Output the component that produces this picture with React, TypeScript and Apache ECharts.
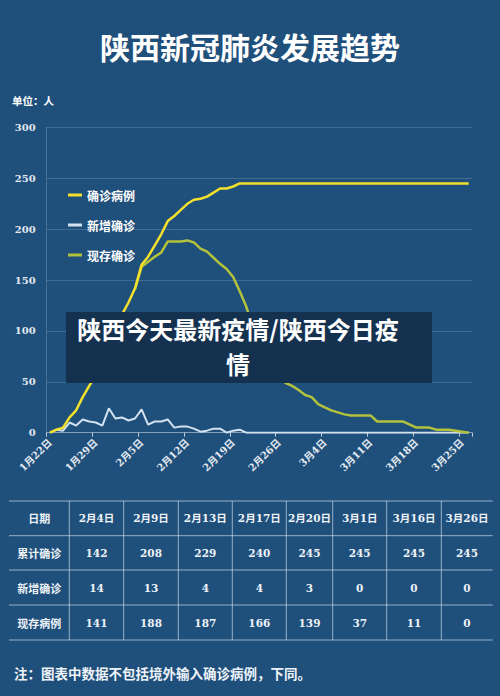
import React, { useEffect, useRef } from "react";
import * as echarts from "echarts";

const categories = [
  "1月22日","1月23日","1月24日","1月25日","1月26日","1月27日","1月28日","1月29日","1月30日","1月31日",
  "2月1日","2月2日","2月3日","2月4日","2月5日","2月6日","2月7日","2月8日","2月9日","2月10日",
  "2月11日","2月12日","2月13日","2月14日","2月15日","2月16日","2月17日","2月18日","2月19日","2月20日",
  "2月21日","2月22日","2月23日","2月24日","2月25日","2月26日","2月27日","2月28日","2月29日",
  "3月1日","3月2日","3月3日","3月4日","3月5日","3月6日","3月7日","3月8日","3月9日","3月10日",
  "3月11日","3月12日","3月13日","3月14日","3月15日","3月16日","3月17日","3月18日","3月19日","3月20日",
  "3月21日","3月22日","3月23日","3月24日","3月25日","3月26日",
];

const cumulative = [
  0, 3, 5, 15, 22, 35, 46, 56, 63, 87,
  101, 116, 128, 142, 165, 173, 184, 195, 208, 213,
  219, 225, 229, 230, 232, 236, 240, 240, 242, 245,
  245, 245, 245, 245, 245, 245, 245, 245, 245,
  245, 245, 245, 245, 245, 245, 245, 245, 245, 245,
  245, 245, 245, 245, 245, 245, 245, 245, 245, 245,
  245, 245, 245, 245, 245, 245,
];

const dailyNew = [
  0, 3, 2, 10, 7, 13, 11, 10, 7, 24,
  14, 15, 12, 14, 23, 8, 11, 11, 13, 5,
  6, 6, 4, 1, 2, 4, 4, 0, 2, 3,
  0, 0, 0, 0, 0, 0, 0, 0, 0,
  0, 0, 0, 0, 0, 0, 0, 0, 0, 0,
  0, 0, 0, 0, 0, 0, 0, 0, 0, 0,
  0, 0, 0, 0, 0, 0,
];

const existing = [
  null, null, null, null, null, null, null, null, null, null,
  null, null, null, 141, 163, 168, 173, 177, 188, 188,
  188, 189, 187, 181, 178, 172, 166, 161, 153, 139,
  124, 104, 87, 75, 63, 55, 49, 46, 42,
  37, 35, 28, 25, 22, 20, 18, 17, 17, 17,
  17, 11, 11, 11, 11, 11, 8, 5, 5, 5,
  3, 3, 3, 2, 1, 0,
];

const seriesNames = ["确诊病例", "新增确诊", "现存确诊"];

const tableDates = ["2月4日", "2月9日", "2月13日", "2月17日", "2月20日", "3月1日", "3月16日", "3月26日"];
const tableCumulative = [142, 208, 229, 240, 245, 245, 245, 245];
const tableNew = [14, 13, 4, 4, 3, 0, 0, 0];
const tableExisting = [141, 188, 187, 166, 139, 37, 11, 0];
const tableRowNames = ["日期", "累计确诊", "新增确诊", "现存病例"];

const titleText = "陕西新冠肺炎发展趋势";
const unitText = "单位：人";
const overlayLines = ["陕西今天最新疫情/陕西今日疫", "情"];
const noteText = "注：图表中数据不包括境外输入确诊病例，下同。";

const BG = "#1f4f7b";
const CJK = '"Noto Sans CJK SC", sans-serif';
const SERIF = '"DejaVu Serif", "Noto Sans CJK SC", serif';

function buildTable(): any[] {
  const colX = [9, 69.3, 123.7, 178.3, 232.3, 286.3, 332.7, 386.7, 441.3, 492.7];
  const rowY = [501, 535.7, 570, 605, 640];
  const lineColor = "rgba(215,228,240,0.65)";
  const els: any[] = [];
  rowY.forEach((y) => {
    els.push({
      type: "line",
      shape: { x1: colX[0], y1: y, x2: colX[colX.length - 1], y2: y },
      style: { stroke: lineColor, lineWidth: 1 },
      silent: true,
    });
  });
  colX.slice(1, colX.length - 1).forEach((x) => {
    els.push({
      type: "line",
      shape: { x1: x, y1: rowY[0], x2: x, y2: rowY[rowY.length - 1] },
      style: { stroke: lineColor, lineWidth: 1 },
      silent: true,
    });
  });
  const rows: (string | number)[][] = [
    [tableRowNames[0], ...tableDates],
    [tableRowNames[1], ...tableCumulative],
    [tableRowNames[2], ...tableNew],
    [tableRowNames[3], ...tableExisting],
  ];
  rows.forEach((row, r) => {
    row.forEach((cell, c) => {
      els.push({
        type: "text",
        x: (colX[c] + colX[c + 1]) / 2,
        y: (rowY[r] + rowY[r + 1]) / 2,
        style: {
          text: String(cell),
          fill: "#eef3f8",
          font: c === 0 ? `bold 11px ${CJK}` : `bold 10.5px ${SERIF}`,
          textAlign: "center",
          textVerticalAlign: "middle",
        },
        silent: true,
      });
    });
  });
  return els;
}

export default function App() {
  const ref = useRef<HTMLDivElement>(null);

  useEffect(() => {
    if (!ref.current) return;
    const chart = echarts.init(ref.current, null, { renderer: "svg" });
    const option: any = {
      animation: false,
      backgroundColor: BG,
      title: {
        text: titleText,
        left: "center",
        top: 26,
        textStyle: { color: "#ffffff", fontSize: 30, fontWeight: "bold", fontFamily: CJK },
      },
      legend: {
        data: seriesNames,
        orient: "vertical",
        left: 63,
        top: 184,
        itemGap: 18,
        itemWidth: 14,
        itemHeight: 3,
        icon: "rect",
        textStyle: { color: "#ffffff", fontSize: 12, fontWeight: "bold", fontFamily: CJK },
      },
      grid: { left: 46.7, right: 28, top: 127.5, bottom: 263.3, containLabel: false },
      xAxis: {
        type: "category",
        data: categories,
        boundaryGap: true,
        axisLine: { show: true, lineStyle: { color: "rgba(255,255,255,0.35)", width: 1 } },
        axisTick: { show: true, interval: 6, length: 4, lineStyle: { color: "rgba(230,238,246,0.8)" } },
        axisLabel: {
          interval: 6,
          rotate: 45,
          margin: 8,
          color: "#e2e9f0",
          fontSize: 10,
          fontWeight: "bold",
          fontFamily: SERIF,
        },
        splitLine: { show: false },
      },
      yAxis: {
        type: "value",
        min: 0,
        max: 300,
        interval: 50,
        axisLine: { show: true, lineStyle: { color: "rgba(255,255,255,0.2)" } },
        axisTick: { show: false },
        axisLabel: { color: "#e2e9f0", fontSize: 10, fontWeight: "bold", fontFamily: SERIF, margin: 11 },
        splitLine: { show: true, lineStyle: { color: "rgba(255,255,255,0.16)", width: 1 } },
      },
      series: [
        {
          name: seriesNames[1],
          type: "line",
          data: dailyNew,
          showSymbol: false,
          symbol: "none",
          lineStyle: { color: "#d3e2f0", width: 2 },
          itemStyle: { color: "#d3e2f0" },
        },
        {
          name: seriesNames[2],
          type: "line",
          data: existing,
          showSymbol: false,
          symbol: "none",
          connectNulls: false,
          lineStyle: { color: "#b3c23c", width: 2.5 },
          itemStyle: { color: "#b3c23c" },
        },
        {
          name: seriesNames[0],
          type: "line",
          data: cumulative,
          showSymbol: false,
          symbol: "none",
          lineStyle: { color: "#f3e12c", width: 2.5 },
          itemStyle: { color: "#f3e12c" },
        },
      ],
      graphic: [
        {
          type: "text",
          x: 12,
          y: 100,
          style: {
            text: unitText,
            fill: "#ffffff",
            font: `bold 10.5px ${CJK}`,
            textVerticalAlign: "middle",
          },
          silent: true,
        },
        {
          type: "rect",
          shape: { x: 66, y: 312, width: 366, height: 71 },
          style: { fill: "#14324f" },
          z: 100,
          silent: true,
        },
        ...overlayLines.map((line, i) => ({
          type: "text",
          x: 238,
          y: 328 + i * 35,
          z: 101,
          style: {
            text: line,
            fill: "#ffffff",
            font: `bold 24px ${CJK}`,
            textAlign: "center",
            textVerticalAlign: "middle",
          },
          silent: true,
        })),
        ...buildTable(),
        {
          type: "text",
          x: 14,
          y: 672.5,
          style: {
            text: noteText,
            fill: "#eef3f8",
            font: `bold 13.5px ${CJK}`,
            textVerticalAlign: "middle",
          },
          silent: true,
        },
      ],
    };
    chart.setOption(option);
    return () => chart.dispose();
  }, []);

  return (
    <div
      ref={ref}
      style={{ position: "absolute", left: 0, top: 0, width: 500, height: 696 }}
    />
  );
}
